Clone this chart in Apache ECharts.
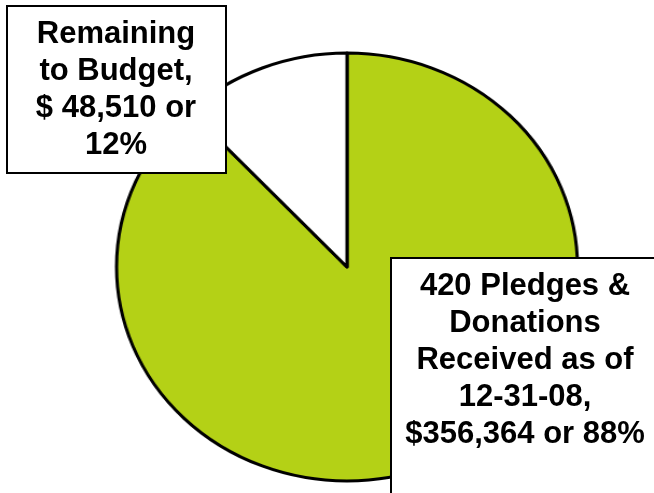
<!DOCTYPE html>
<html>
<head>
<meta charset="utf-8">
<script src="https://cdn.jsdelivr.net/npm/echarts@6/dist/echarts.min.js"></script>
<style>
  html, body { margin: 0; padding: 0; background: #fff; }
  #wrap { position: relative; width: 654px; height: 493px; overflow: hidden; }
  /* pie is an ellipse in the original: draw a circle and stretch it horizontally */
  #pie { position: absolute; left: 126.5px; top: 47px; width: 440px; height: 440px;
         transform: scaleX(1.077); transform-origin: 50% 50%; }
  #labels { position: absolute; left: 0; top: 0; width: 654px; height: 493px; }
</style>
</head>
<body>
<div id="wrap">
  <div id="pie"></div>
  <div id="labels"></div>
</div>
<script>
// data
var categories = ['420 Pledges & Donations Received as of 12-31-08', 'Remaining to Budget'];
var values = [356364, 48510];
var colors = ['#b4d116', '#ffffff'];
// label text, line by line as in the original boxes
var receivedLines = ['420 Pledges &', 'Donations', 'Received as of', '12-31-08,', '$356,364 or 88%'];
var remainingLines = ['Remaining', 'to Budget,', '$ 48,510 or', '12%'];

var pieChart = echarts.init(document.getElementById('pie'));
var seriesData = [];
for (var i = 0; i < categories.length; i++) {
  seriesData.push({
    name: categories[i],
    value: values[i],
    itemStyle: { color: colors[i] }
  });
}
pieChart.setOption({
  animation: false,
  series: [{
    type: 'pie',
    center: ['50%', '50%'],
    radius: 214,
    startAngle: 90,
    clockwise: true,
    silent: true,
    label: { show: false },
    labelLine: { show: false },
    itemStyle: { borderColor: '#000', borderWidth: 3 },
    data: seriesData
  }]
});

// label boxes on top
var labelChart = echarts.init(document.getElementById('labels'));
var font = 'bold 31px "Liberation Sans", Arial, sans-serif';
labelChart.setOption({
  animation: false,
  graphic: [
    {
      type: 'rect',
      shape: { x: 7, y: 6, width: 219, height: 167 },
      style: { fill: '#fff', stroke: '#000', lineWidth: 2 }
    },
    {
      type: 'text',
      x: 116, y: 90,
      style: {
        text: remainingLines.join('\n'),
        font: font,
        fill: '#000',
        align: 'center',
        verticalAlign: 'middle',
        lineHeight: 37
      }
    },
    {
      type: 'rect',
      shape: { x: 391, y: 258, width: 270, height: 250 },
      style: { fill: '#fff', stroke: '#000', lineWidth: 2 }
    },
    {
      type: 'text',
      x: 525, y: 360,
      style: {
        text: receivedLines.join('\n'),
        font: font,
        fill: '#000',
        align: 'center',
        verticalAlign: 'middle',
        lineHeight: 37
      }
    }
  ]
});
</script>
</body>
</html>
